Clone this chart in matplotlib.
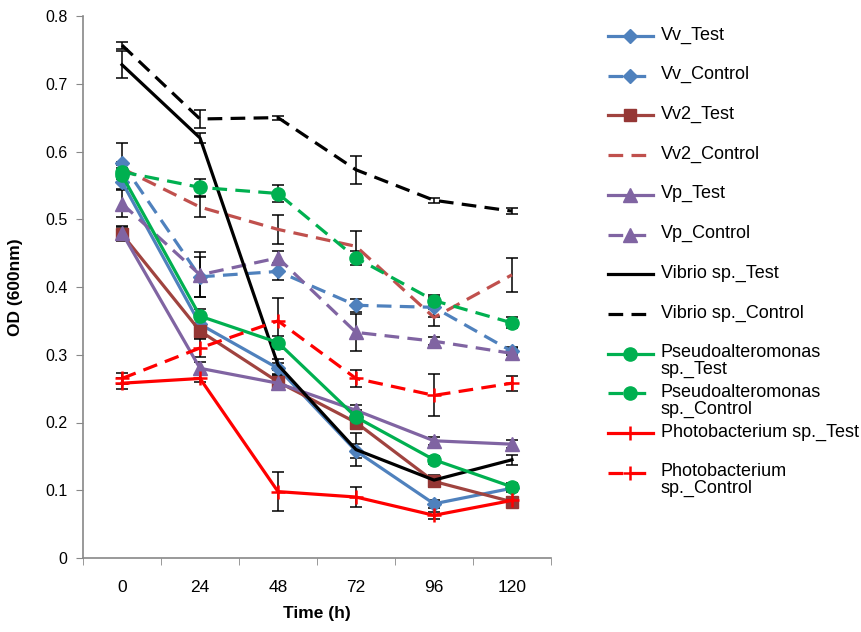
import matplotlib
matplotlib.use("Agg")
import matplotlib.pyplot as plt
from matplotlib.lines import Line2D

plt.rcParams['font.family'] = ['Liberation Sans', 'DejaVu Sans']

times = ["0", "24", "48", "72", "96", "120"]

vv_test = [0.555, 0.345, 0.280, 0.158, 0.080, 0.103]
vv_control = [0.583, 0.415, 0.423, 0.373, 0.370, 0.305]
vv2_test = [0.478, 0.335, 0.260, 0.200, 0.113, 0.083]
vv2_control = [0.575, 0.518, 0.485, 0.460, 0.355, 0.418]
vp_test = [0.480, 0.280, 0.258, 0.218, 0.173, 0.168]
vp_control = [0.523, 0.418, 0.443, 0.333, 0.320, 0.302]
vib_test = [0.728, 0.620, 0.285, 0.160, 0.115, 0.145]
vib_control = [0.757, 0.648, 0.650, 0.573, 0.528, 0.512]
pse_test = [0.565, 0.357, 0.318, 0.208, 0.145, 0.105]
pse_control = [0.570, 0.547, 0.538, 0.443, 0.380, 0.347]
pho_test = [0.258, 0.265, 0.098, 0.090, 0.063, 0.085]
pho_control = [0.265, 0.310, 0.350, 0.265, 0.240, 0.258]

err_vv_test = [0.010, 0.010, 0.008, 0.010, 0.006, 0.006]
err_vv_control = [0.030, 0.030, 0.013, 0.010, 0.015, 0.006]
err_vv2_test = [0.010, 0.010, 0.010, 0.010, 0.008, 0.006]
err_vv2_control = [0.010, 0.015, 0.022, 0.022, 0.012, 0.025]
err_vp_test = [0.010, 0.010, 0.010, 0.008, 0.006, 0.006]
err_vp_control = [0.020, 0.033, 0.010, 0.027, 0.006, 0.008]
err_vib_test = [0.020, 0.008, 0.008, 0.024, 0.008, 0.007]
err_vib_control = [0.005, 0.013, 0.003, 0.021, 0.004, 0.004]
err_pse_test = [0.010, 0.010, 0.010, 0.010, 0.006, 0.006]
err_pse_control = [0.010, 0.012, 0.012, 0.010, 0.008, 0.008]
err_pho_test = [0.008, 0.005, 0.029, 0.015, 0.005, 0.005]
err_pho_control = [0.008, 0.013, 0.034, 0.012, 0.031, 0.011]

labels = ["Vv_Test", "Vv_Control", "Vv2_Test", "Vv2_Control", "Vp_Test", "Vp_Control",
          "Vibrio sp._Test", "Vibrio sp._Control", "Pseudoalteromonas\nsp._Test",
          "Pseudoalteromonas\nsp._Control", "Photobacterium sp._Test",
          "Photobacterium\nsp._Control"]

BLUE = "#4F81BD"
BROWN = "#A0433F"
BROWN_MK = "#953735"
RED2 = "#C0504D"
PURPLE = "#8064A2"
BLACK = "#000000"
GREEN = "#00B050"
RED = "#FF0000"

series = [
    (vv_test, err_vv_test, dict(color=BLUE, ls='-', marker='D', ms=7.5, mfc=BLUE, mec=BLUE)),
    (vv_control, err_vv_control, dict(color=BLUE, ls='--', marker='D', ms=7.5, mfc=BLUE, mec=BLUE)),
    (vv2_test, err_vv2_test, dict(color=BROWN, ls='-', marker='s', ms=9, mfc=BROWN_MK, mec=BROWN_MK)),
    (vv2_control, err_vv2_control, dict(color=RED2, ls='--', marker=None)),
    (vp_test, err_vp_test, dict(color=PURPLE, ls='-', marker='^', ms=10, mfc=PURPLE, mec=PURPLE)),
    (vp_control, err_vp_control, dict(color=PURPLE, ls='--', marker='^', ms=10, mfc=PURPLE, mec=PURPLE)),
    (vib_test, err_vib_test, dict(color=BLACK, ls='-', marker=None)),
    (vib_control, err_vib_control, dict(color=BLACK, ls='--', marker=None)),
    (pse_test, err_pse_test, dict(color=GREEN, ls='-', marker='o', ms=9.5, mfc=GREEN, mec=GREEN)),
    (pse_control, err_pse_control, dict(color=GREEN, ls='--', marker='o', ms=9.5, mfc=GREEN, mec=GREEN)),
    (pho_test, err_pho_test, dict(color=RED, ls='-', marker='+', ms=10, mew=1.8, mfc=RED, mec=RED)),
    (pho_control, err_pho_control, dict(color=RED, ls='--', marker='+', ms=10, mew=1.8, mfc=RED, mec=RED)),
]

fig = plt.figure(figsize=(8.62, 6.32), dpi=100)
ax = fig.add_axes([83 / 862, 1 - 558 / 632, (551 - 83) / 862, (558 - 16) / 632])

x = list(range(len(times)))
handles = []
for vals, errs, st in series:
    st = dict(st)
    ls = st.pop('ls')
    lw = 2.3
    kw = dict(lw=lw, **st)
    if ls == '--':
        kw['dashes'] = (4.6, 2.6)
    ax.errorbar(x, vals, yerr=errs, fmt='none', ecolor='black', elinewidth=1.1,
                capsize=4, capthick=1.1, zorder=2)
    line, = ax.plot(x, vals, ls=ls, zorder=3, **kw)
    handles.append(line)

ax.set_xlim(-0.5, len(times) - 0.5)
ax.set_ylim(0, 0.8)
ax.set_xticks(x)
ax.set_xticklabels(times)
ax.set_xticks([i - 0.5 for i in range(len(times) + 1)], minor=True)
ax.tick_params(axis='x', which='major', length=0, pad=16, labelsize=12.5)
ax.tick_params(axis='x', which='minor', length=5, color='#888888', direction='out')
ax.set_yticks([0, 0.1, 0.2, 0.3, 0.4, 0.5, 0.6, 0.7, 0.8])
ax.set_yticklabels(["0", "0.1", "0.2", "0.3", "0.4", "0.5", "0.6", "0.7", "0.8"])
ax.tick_params(axis='y', length=5, color='#888888', direction='out', labelsize=11.5, pad=6)
for s in ['top', 'right']:
    ax.spines[s].set_visible(False)
for s in ['left', 'bottom']:
    ax.spines[s].set_color('#888888')
    ax.spines[s].set_linewidth(1.2)

ax.set_xlabel("Time (h)", fontsize=12.5, fontweight='bold', labelpad=8)
ax.set_ylabel("OD (600nm)", fontsize=12.5, fontweight='bold', labelpad=16)

# Legend (Excel-style, fixed pitch)
W, H = 862, 632
y0 = 36
pitch = 39.7
for i, (h, lab) in enumerate(zip(handles, labels)):
    yp = y0 + i * pitch
    yf = 1 - yp / H
    ln = Line2D([608 / W, 653 / W], [yf, yf], transform=fig.transFigure,
                color=h.get_color(), lw=h.get_linewidth(), ls=h.get_linestyle())
    if h.get_linestyle() == '--':
        ln.set_dashes((4.6, 2.6))
    fig.add_artist(ln)
    if h.get_marker() not in (None, 'None', ''):
        mk = Line2D([630.5 / W], [yf], transform=fig.transFigure, ls='none',
                    marker=h.get_marker(), ms=h.get_markersize(),
                    mfc=h.get_markerfacecolor(), mec=h.get_markeredgecolor(),
                    mew=h.get_markeredgewidth())
        fig.add_artist(mk)
    fig.text(661 / W, yf + 9.5 / H, lab, transform=fig.transFigure, fontsize=13,
             va='top', ha='left', linespacing=1.0)

fig.savefig("out.png", dpi=100)
